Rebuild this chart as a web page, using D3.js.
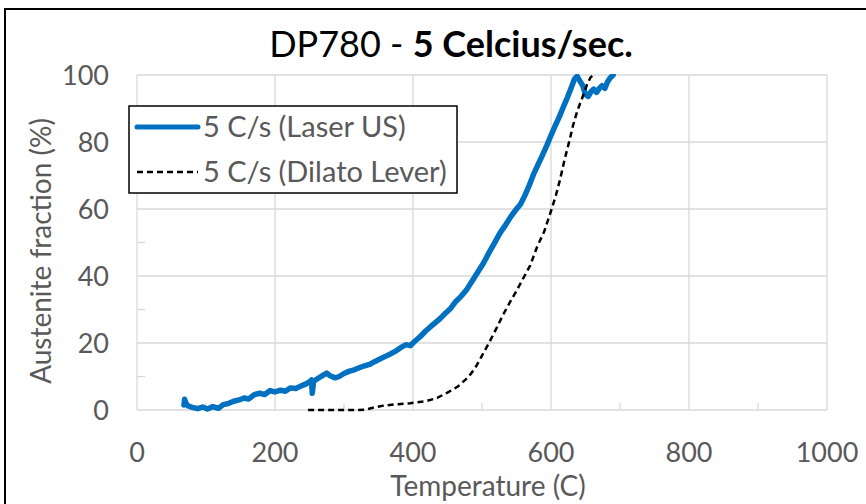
<!DOCTYPE html>
<html><head><meta charset="utf-8">
<script src="https://cdn.jsdelivr.net/npm/d3@7"></script>
<style>body{margin:0;background:#fff}svg{display:block}text{font-family:Lato,"Open Sans",sans-serif}</style>
</head><body><svg id="c" width="866" height="504"></svg>
<script>
const xTicks = [0,200,400,600,800,1000];
const yTicks = [0,20,40,60,80,100];
const seriesNames = ["5 C/s (Laser US)","5 C/s (Dilato Lever)"];
const laserT = [68,69,71,74,80,88,95,102,110,118,125,133,140,148,155,162,170,178,185,193,200,208,215,222,230,238,245,250,253,254,256,262,270,275,280,287,293,300,308,315,322,330,338,345,352,360,368,375,382,390,396,403,410,418,425,432,440,447,454,462,470,478,486,494,502,510,518,526,534,542,550,556,562,568,575,581,587,594,600,606,612,618,624,630,634,638,642,646,650,654,658,662,666,670,674,678,682,686,690];
const laserF = [1.5,3.2,2.0,1.2,0.8,0.4,0.9,0.3,1.0,0.5,1.6,2.0,2.6,3.0,3.6,3.3,4.6,5.0,4.6,5.8,5.4,5.9,5.6,6.6,6.4,7.2,7.8,8.4,9.0,5.0,8.6,9.4,10.4,11.0,10.2,9.6,10.0,10.9,11.6,12.0,12.6,13.2,13.7,14.5,15.2,16.0,16.8,17.6,18.6,19.5,19.2,20.6,21.8,23.5,24.8,26.0,27.4,28.9,30.2,32.4,34.0,36.0,38.6,41.2,43.8,46.9,49.8,52.8,55.2,57.8,60.0,61.5,64.0,66.8,70.5,73.2,75.8,79.0,82.0,84.8,87.5,90.5,93.4,96.6,98.8,99.6,98.2,96.8,94.2,93.6,95.0,95.8,94.8,96.0,96.8,96.0,98.0,99.2,100];
const dilatoT = [248,260,280,300,320,330,345,357,375,396,420,435,450,465,480,490,500,510,520,530,540,550,560,570,580,590,600,607,613,620,627,632,638,645,652,657,661];
const dilatoF = [0,0,0,0,0,0.1,0.8,1.3,1.7,2.0,2.7,3.6,5.2,7.0,9.8,12.5,16.2,20.0,24.0,28.2,32.0,35.6,39.4,43.2,48.8,53.2,59.4,64.0,68.7,75.0,80.6,85.0,89.2,93.0,97.0,99.2,100];

const svg = d3.select("#c");
const L=137,R=827,T=75,B=410;
const x = d3.scaleLinear().domain([0,1000]).range([L,R]);
const y = d3.scaleLinear().domain([0,100]).range([B,T]);
const grey="#595959", grid="#d9d9d9";

svg.append("rect").attr("x",5).attr("y",9).attr("width",900).attr("height",600)
  .attr("fill","none").attr("stroke","#000").attr("stroke-width",2);

svg.append("g").selectAll("line").data(xTicks).join("line")
  .attr("x1",d=>x(d)).attr("x2",d=>x(d)).attr("y1",T).attr("y2",B)
  .attr("stroke",grid).attr("stroke-width",1.3);
svg.append("g").selectAll("line").data(yTicks).join("line")
  .attr("x1",L).attr("x2",R).attr("y1",d=>y(d)).attr("y2",d=>y(d))
  .attr("stroke",grid).attr("stroke-width",1.3);
svg.append("g").selectAll("line").data(d3.range(100,1000,200)).join("line")
  .attr("x1",d=>x(d)).attr("x2",d=>x(d)).attr("y1",B).attr("y2",B-7)
  .attr("stroke",grid).attr("stroke-width",1.3);
svg.append("g").selectAll("line").data(d3.range(10,100,20)).join("line")
  .attr("x1",L).attr("x2",L+8).attr("y1",d=>y(d)).attr("y2",d=>y(d))
  .attr("stroke",grid).attr("stroke-width",1.3);

svg.append("g").selectAll("text").data(yTicks).join("text")
  .attr("x",109).attr("y",d=>y(d)+9.5).attr("text-anchor","end")
  .attr("font-size",27).attr("fill",grey).text(d=>d);
svg.append("g").selectAll("text").data(xTicks).join("text")
  .attr("x",d=>x(d)).attr("y",462).attr("text-anchor","middle")
  .attr("font-size",27).attr("fill",grey).text(d=>d);

svg.append("text").attr("x",488).attr("y",496).attr("text-anchor","middle")
  .attr("font-size",28).attr("fill",grey).text("Temperature (C)");
svg.append("text").attr("transform","translate(51,251) rotate(-90)").attr("text-anchor","middle")
  .attr("font-size",28).attr("fill",grey).text("Austenite fraction (%)");

const t = svg.append("text").attr("x",451).attr("y",57).attr("text-anchor","middle").attr("font-size",36).attr("fill","#000");
t.append("tspan").text("DP780 - ");
t.append("tspan").attr("font-weight","bold").text("5 Celcius/sec.");

svg.append("clipPath").attr("id","clip").append("rect").attr("x",L).attr("y",T-1).attr("width",R-L).attr("height",B-T+3);
const line = d3.line().x(d=>x(d[0])).y(d=>y(d[1]));
const laser = laserT.map((v,i)=>[v,laserF[i]]);
const dil = dilatoT.map((v,i)=>[v,dilatoF[i]]);
const g = svg.append("g").attr("clip-path","url(#clip)");
g.append("path").attr("d",line(laser)).attr("fill","none").attr("stroke","#0070c0")
  .attr("stroke-width",5.5).attr("stroke-linejoin","round").attr("stroke-linecap","round");
g.append("path").attr("d",line(dil)).attr("fill","none").attr("stroke","#000")
  .attr("stroke-width",2.5).attr("stroke-dasharray","6,4");

const lg = svg.append("g");
lg.append("rect").attr("x",129).attr("y",106).attr("width",328).attr("height",87)
  .attr("fill","#fff").attr("stroke","#000").attr("stroke-width",1.5);
lg.append("line").attr("x1",137).attr("x2",198).attr("y1",127).attr("y2",127)
  .attr("stroke","#0070c0").attr("stroke-width",5).attr("stroke-linecap","round");
lg.append("line").attr("x1",137).attr("x2",198).attr("y1",172).attr("y2",172)
  .attr("stroke","#000").attr("stroke-width",2.5).attr("stroke-dasharray","6,4");
lg.selectAll("text.l").data(seriesNames).join("text").attr("class","l")
  .attr("x",203).attr("y",(d,i)=>137+i*45).attr("font-size",29).attr("fill",grey).text(d=>d);
</script></body></html>
